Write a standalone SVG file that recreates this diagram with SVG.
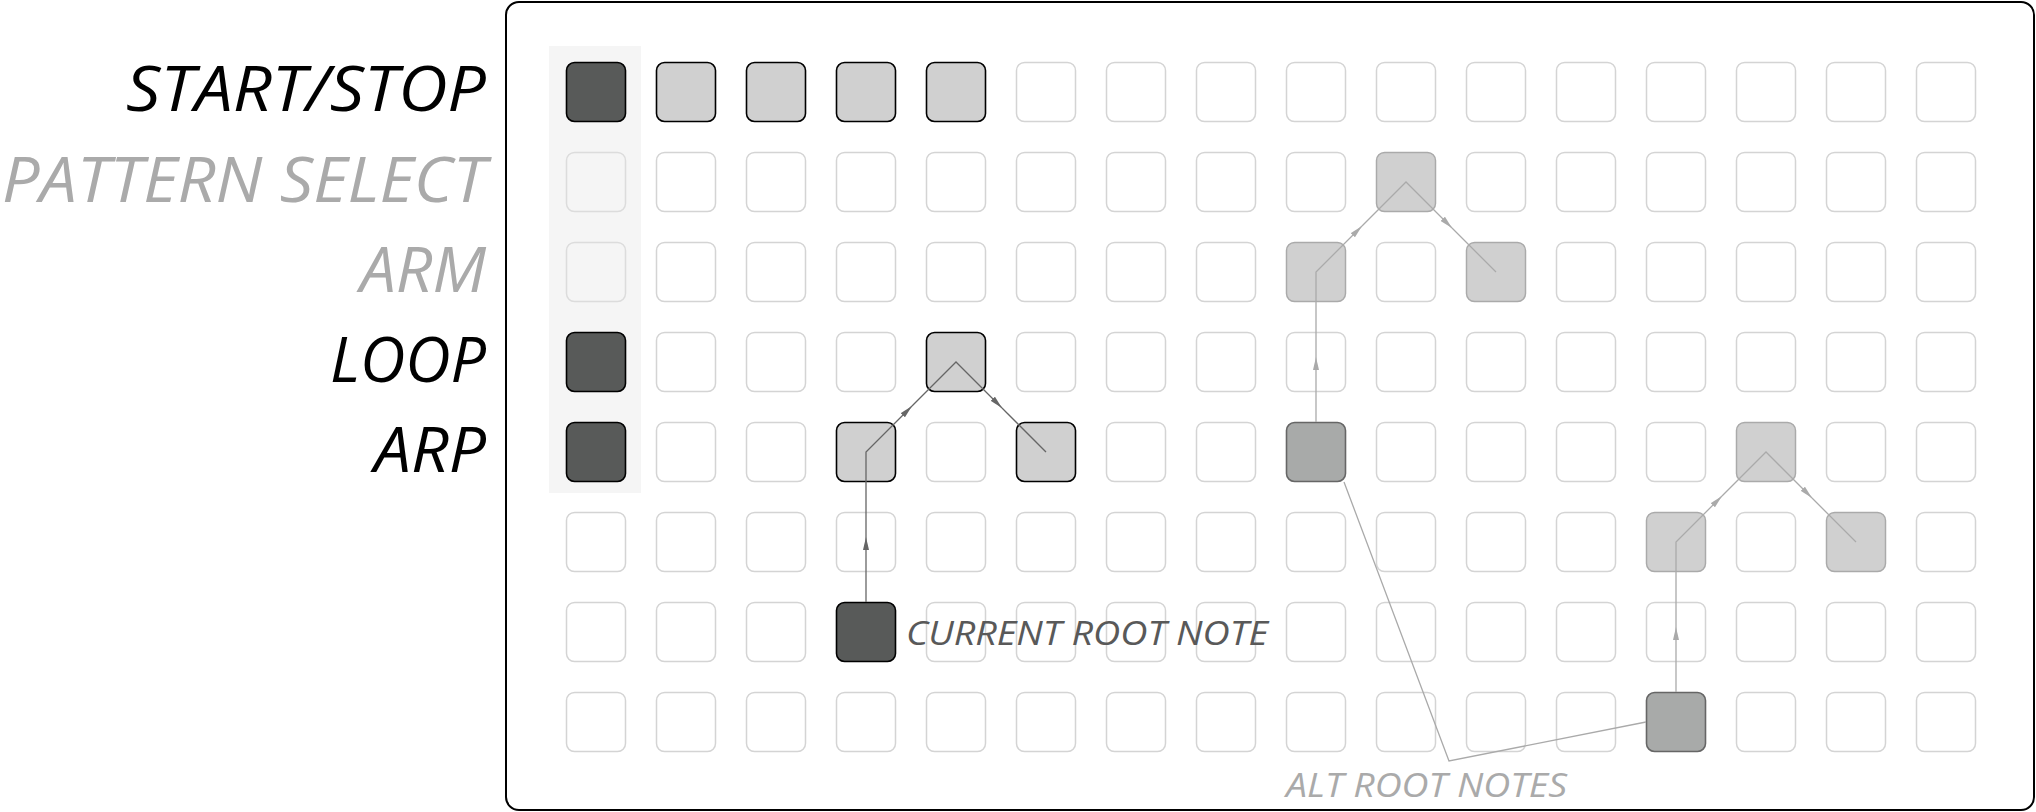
<svg xmlns="http://www.w3.org/2000/svg" width="2036" height="812" viewBox="0 0 2036 812">
<style>
.lbl{font-family:"Open Sans","Liberation Sans",sans-serif;font-style:italic;font-weight:400;font-size:62px;text-anchor:end}
.note{font-family:"Open Sans","Liberation Sans",sans-serif;font-style:italic;font-weight:400;font-size:32px}
.e{fill:#fff;stroke:#d4d4d4;stroke-width:1.5}
.bg{fill:none;stroke:#dcdcdc;stroke-width:1.5}
.d{fill:#585a59;stroke:#000;stroke-width:1.6}
.l{fill:#d0d0d0;stroke:#000;stroke-width:1.6}
.fl{fill:#d0d0d0;stroke:#aaa;stroke-width:1.5}
.fd{fill:#a8aaa9;stroke:#666;stroke-width:1.6}
.cd{fill:none;stroke:#666;stroke-width:1.3}
.cf{fill:none;stroke:#aaa;stroke-width:1.3}
</style>
<defs>
<marker id="ad" markerUnits="userSpaceOnUse" viewBox="0 0 13 6" markerWidth="13" markerHeight="6" refX="13" refY="3" orient="auto"><path d="M0,0 L13,3 L0,6 z" fill="#666"/></marker>
<marker id="af" markerUnits="userSpaceOnUse" viewBox="0 0 13 6" markerWidth="13" markerHeight="6" refX="13" refY="3" orient="auto"><path d="M0,0 L13,3 L0,6 z" fill="#aaa"/></marker>
</defs>
<rect width="2036" height="812" fill="#fff"/>
<rect id="frame" x="506" y="2" width="1528" height="808" rx="13" fill="#fff" stroke="#000" stroke-width="2"/>
<rect id="column-bg" x="549" y="46" width="92" height="447" fill="#f5f5f5"/>
<g id="labels">
<text id="lbl-start" class="lbl" x="486" y="111" fill="#000" textLength="360" lengthAdjust="spacingAndGlyphs">START/STOP</text>
<text id="lbl-pattern" class="lbl" x="486" y="202" fill="#aaa" textLength="484" lengthAdjust="spacingAndGlyphs">PATTERN SELECT</text>
<text id="lbl-arm" class="lbl" x="486" y="292" fill="#aaa" textLength="126" lengthAdjust="spacingAndGlyphs">ARM</text>
<text id="lbl-loop" class="lbl" x="486" y="382" fill="#000" textLength="156" lengthAdjust="spacingAndGlyphs">LOOP</text>
<text id="lbl-arp" class="lbl" x="486" y="472" fill="#000" textLength="112" lengthAdjust="spacingAndGlyphs">ARP</text>
</g>
<g id="grid">
<g id="row0">
<g id="r0c0"><rect class="d" x="566.5" y="62.5" width="59" height="59" rx="8"/></g>
<g id="r0c1"><rect class="l" x="656.5" y="62.5" width="59" height="59" rx="8"/></g>
<g id="r0c2"><rect class="l" x="746.5" y="62.5" width="59" height="59" rx="8"/></g>
<g id="r0c3"><rect class="l" x="836.5" y="62.5" width="59" height="59" rx="8"/></g>
<g id="r0c4"><rect class="l" x="926.5" y="62.5" width="59" height="59" rx="8"/></g>
<g id="r0c5"><rect class="e" x="1016.5" y="62.5" width="59" height="59" rx="8"/></g>
<g id="r0c6"><rect class="e" x="1106.5" y="62.5" width="59" height="59" rx="8"/></g>
<g id="r0c7"><rect class="e" x="1196.5" y="62.5" width="59" height="59" rx="8"/></g>
<g id="r0c8"><rect class="e" x="1286.5" y="62.5" width="59" height="59" rx="8"/></g>
<g id="r0c9"><rect class="e" x="1376.5" y="62.5" width="59" height="59" rx="8"/></g>
<g id="r0c10"><rect class="e" x="1466.5" y="62.5" width="59" height="59" rx="8"/></g>
<g id="r0c11"><rect class="e" x="1556.5" y="62.5" width="59" height="59" rx="8"/></g>
<g id="r0c12"><rect class="e" x="1646.5" y="62.5" width="59" height="59" rx="8"/></g>
<g id="r0c13"><rect class="e" x="1736.5" y="62.5" width="59" height="59" rx="8"/></g>
<g id="r0c14"><rect class="e" x="1826.5" y="62.5" width="59" height="59" rx="8"/></g>
<g id="r0c15"><rect class="e" x="1916.5" y="62.5" width="59" height="59" rx="8"/></g>
</g>
<g id="row1">
<g id="r1c0"><rect class="bg" x="566.5" y="152.5" width="59" height="59" rx="8"/></g>
<g id="r1c1"><rect class="e" x="656.5" y="152.5" width="59" height="59" rx="8"/></g>
<g id="r1c2"><rect class="e" x="746.5" y="152.5" width="59" height="59" rx="8"/></g>
<g id="r1c3"><rect class="e" x="836.5" y="152.5" width="59" height="59" rx="8"/></g>
<g id="r1c4"><rect class="e" x="926.5" y="152.5" width="59" height="59" rx="8"/></g>
<g id="r1c5"><rect class="e" x="1016.5" y="152.5" width="59" height="59" rx="8"/></g>
<g id="r1c6"><rect class="e" x="1106.5" y="152.5" width="59" height="59" rx="8"/></g>
<g id="r1c7"><rect class="e" x="1196.5" y="152.5" width="59" height="59" rx="8"/></g>
<g id="r1c8"><rect class="e" x="1286.5" y="152.5" width="59" height="59" rx="8"/></g>
<g id="r1c9"><rect class="fl" x="1376.5" y="152.5" width="59" height="59" rx="8"/></g>
<g id="r1c10"><rect class="e" x="1466.5" y="152.5" width="59" height="59" rx="8"/></g>
<g id="r1c11"><rect class="e" x="1556.5" y="152.5" width="59" height="59" rx="8"/></g>
<g id="r1c12"><rect class="e" x="1646.5" y="152.5" width="59" height="59" rx="8"/></g>
<g id="r1c13"><rect class="e" x="1736.5" y="152.5" width="59" height="59" rx="8"/></g>
<g id="r1c14"><rect class="e" x="1826.5" y="152.5" width="59" height="59" rx="8"/></g>
<g id="r1c15"><rect class="e" x="1916.5" y="152.5" width="59" height="59" rx="8"/></g>
</g>
<g id="row2">
<g id="r2c0"><rect class="bg" x="566.5" y="242.5" width="59" height="59" rx="8"/></g>
<g id="r2c1"><rect class="e" x="656.5" y="242.5" width="59" height="59" rx="8"/></g>
<g id="r2c2"><rect class="e" x="746.5" y="242.5" width="59" height="59" rx="8"/></g>
<g id="r2c3"><rect class="e" x="836.5" y="242.5" width="59" height="59" rx="8"/></g>
<g id="r2c4"><rect class="e" x="926.5" y="242.5" width="59" height="59" rx="8"/></g>
<g id="r2c5"><rect class="e" x="1016.5" y="242.5" width="59" height="59" rx="8"/></g>
<g id="r2c6"><rect class="e" x="1106.5" y="242.5" width="59" height="59" rx="8"/></g>
<g id="r2c7"><rect class="e" x="1196.5" y="242.5" width="59" height="59" rx="8"/></g>
<g id="r2c8"><rect class="fl" x="1286.5" y="242.5" width="59" height="59" rx="8"/></g>
<g id="r2c9"><rect class="e" x="1376.5" y="242.5" width="59" height="59" rx="8"/></g>
<g id="r2c10"><rect class="fl" x="1466.5" y="242.5" width="59" height="59" rx="8"/></g>
<g id="r2c11"><rect class="e" x="1556.5" y="242.5" width="59" height="59" rx="8"/></g>
<g id="r2c12"><rect class="e" x="1646.5" y="242.5" width="59" height="59" rx="8"/></g>
<g id="r2c13"><rect class="e" x="1736.5" y="242.5" width="59" height="59" rx="8"/></g>
<g id="r2c14"><rect class="e" x="1826.5" y="242.5" width="59" height="59" rx="8"/></g>
<g id="r2c15"><rect class="e" x="1916.5" y="242.5" width="59" height="59" rx="8"/></g>
</g>
<g id="row3">
<g id="r3c0"><rect class="d" x="566.5" y="332.5" width="59" height="59" rx="8"/></g>
<g id="r3c1"><rect class="e" x="656.5" y="332.5" width="59" height="59" rx="8"/></g>
<g id="r3c2"><rect class="e" x="746.5" y="332.5" width="59" height="59" rx="8"/></g>
<g id="r3c3"><rect class="e" x="836.5" y="332.5" width="59" height="59" rx="8"/></g>
<g id="r3c4"><rect class="l" x="926.5" y="332.5" width="59" height="59" rx="8"/></g>
<g id="r3c5"><rect class="e" x="1016.5" y="332.5" width="59" height="59" rx="8"/></g>
<g id="r3c6"><rect class="e" x="1106.5" y="332.5" width="59" height="59" rx="8"/></g>
<g id="r3c7"><rect class="e" x="1196.5" y="332.5" width="59" height="59" rx="8"/></g>
<g id="r3c8"><rect class="e" x="1286.5" y="332.5" width="59" height="59" rx="8"/></g>
<g id="r3c9"><rect class="e" x="1376.5" y="332.5" width="59" height="59" rx="8"/></g>
<g id="r3c10"><rect class="e" x="1466.5" y="332.5" width="59" height="59" rx="8"/></g>
<g id="r3c11"><rect class="e" x="1556.5" y="332.5" width="59" height="59" rx="8"/></g>
<g id="r3c12"><rect class="e" x="1646.5" y="332.5" width="59" height="59" rx="8"/></g>
<g id="r3c13"><rect class="e" x="1736.5" y="332.5" width="59" height="59" rx="8"/></g>
<g id="r3c14"><rect class="e" x="1826.5" y="332.5" width="59" height="59" rx="8"/></g>
<g id="r3c15"><rect class="e" x="1916.5" y="332.5" width="59" height="59" rx="8"/></g>
</g>
<g id="row4">
<g id="r4c0"><rect class="d" x="566.5" y="422.5" width="59" height="59" rx="8"/></g>
<g id="r4c1"><rect class="e" x="656.5" y="422.5" width="59" height="59" rx="8"/></g>
<g id="r4c2"><rect class="e" x="746.5" y="422.5" width="59" height="59" rx="8"/></g>
<g id="r4c3"><rect class="l" x="836.5" y="422.5" width="59" height="59" rx="8"/></g>
<g id="r4c4"><rect class="e" x="926.5" y="422.5" width="59" height="59" rx="8"/></g>
<g id="r4c5"><rect class="l" x="1016.5" y="422.5" width="59" height="59" rx="8"/></g>
<g id="r4c6"><rect class="e" x="1106.5" y="422.5" width="59" height="59" rx="8"/></g>
<g id="r4c7"><rect class="e" x="1196.5" y="422.5" width="59" height="59" rx="8"/></g>
<g id="r4c8"><rect class="fd" x="1286.5" y="422.5" width="59" height="59" rx="8"/></g>
<g id="r4c9"><rect class="e" x="1376.5" y="422.5" width="59" height="59" rx="8"/></g>
<g id="r4c10"><rect class="e" x="1466.5" y="422.5" width="59" height="59" rx="8"/></g>
<g id="r4c11"><rect class="e" x="1556.5" y="422.5" width="59" height="59" rx="8"/></g>
<g id="r4c12"><rect class="e" x="1646.5" y="422.5" width="59" height="59" rx="8"/></g>
<g id="r4c13"><rect class="fl" x="1736.5" y="422.5" width="59" height="59" rx="8"/></g>
<g id="r4c14"><rect class="e" x="1826.5" y="422.5" width="59" height="59" rx="8"/></g>
<g id="r4c15"><rect class="e" x="1916.5" y="422.5" width="59" height="59" rx="8"/></g>
</g>
<g id="row5">
<g id="r5c0"><rect class="e" x="566.5" y="512.5" width="59" height="59" rx="8"/></g>
<g id="r5c1"><rect class="e" x="656.5" y="512.5" width="59" height="59" rx="8"/></g>
<g id="r5c2"><rect class="e" x="746.5" y="512.5" width="59" height="59" rx="8"/></g>
<g id="r5c3"><rect class="e" x="836.5" y="512.5" width="59" height="59" rx="8"/></g>
<g id="r5c4"><rect class="e" x="926.5" y="512.5" width="59" height="59" rx="8"/></g>
<g id="r5c5"><rect class="e" x="1016.5" y="512.5" width="59" height="59" rx="8"/></g>
<g id="r5c6"><rect class="e" x="1106.5" y="512.5" width="59" height="59" rx="8"/></g>
<g id="r5c7"><rect class="e" x="1196.5" y="512.5" width="59" height="59" rx="8"/></g>
<g id="r5c8"><rect class="e" x="1286.5" y="512.5" width="59" height="59" rx="8"/></g>
<g id="r5c9"><rect class="e" x="1376.5" y="512.5" width="59" height="59" rx="8"/></g>
<g id="r5c10"><rect class="e" x="1466.5" y="512.5" width="59" height="59" rx="8"/></g>
<g id="r5c11"><rect class="e" x="1556.5" y="512.5" width="59" height="59" rx="8"/></g>
<g id="r5c12"><rect class="fl" x="1646.5" y="512.5" width="59" height="59" rx="8"/></g>
<g id="r5c13"><rect class="e" x="1736.5" y="512.5" width="59" height="59" rx="8"/></g>
<g id="r5c14"><rect class="fl" x="1826.5" y="512.5" width="59" height="59" rx="8"/></g>
<g id="r5c15"><rect class="e" x="1916.5" y="512.5" width="59" height="59" rx="8"/></g>
</g>
<g id="row6">
<g id="r6c0"><rect class="e" x="566.5" y="602.5" width="59" height="59" rx="8"/></g>
<g id="r6c1"><rect class="e" x="656.5" y="602.5" width="59" height="59" rx="8"/></g>
<g id="r6c2"><rect class="e" x="746.5" y="602.5" width="59" height="59" rx="8"/></g>
<g id="r6c3"><rect class="d" x="836.5" y="602.5" width="59" height="59" rx="8"/></g>
<g id="r6c4"><rect class="e" x="926.5" y="602.5" width="59" height="59" rx="8"/></g>
<g id="r6c5"><rect class="e" x="1016.5" y="602.5" width="59" height="59" rx="8"/></g>
<g id="r6c6"><rect class="e" x="1106.5" y="602.5" width="59" height="59" rx="8"/></g>
<g id="r6c7"><rect class="e" x="1196.5" y="602.5" width="59" height="59" rx="8"/></g>
<g id="r6c8"><rect class="e" x="1286.5" y="602.5" width="59" height="59" rx="8"/></g>
<g id="r6c9"><rect class="e" x="1376.5" y="602.5" width="59" height="59" rx="8"/></g>
<g id="r6c10"><rect class="e" x="1466.5" y="602.5" width="59" height="59" rx="8"/></g>
<g id="r6c11"><rect class="e" x="1556.5" y="602.5" width="59" height="59" rx="8"/></g>
<g id="r6c12"><rect class="e" x="1646.5" y="602.5" width="59" height="59" rx="8"/></g>
<g id="r6c13"><rect class="e" x="1736.5" y="602.5" width="59" height="59" rx="8"/></g>
<g id="r6c14"><rect class="e" x="1826.5" y="602.5" width="59" height="59" rx="8"/></g>
<g id="r6c15"><rect class="e" x="1916.5" y="602.5" width="59" height="59" rx="8"/></g>
</g>
<g id="row7">
<g id="r7c0"><rect class="e" x="566.5" y="692.5" width="59" height="59" rx="8"/></g>
<g id="r7c1"><rect class="e" x="656.5" y="692.5" width="59" height="59" rx="8"/></g>
<g id="r7c2"><rect class="e" x="746.5" y="692.5" width="59" height="59" rx="8"/></g>
<g id="r7c3"><rect class="e" x="836.5" y="692.5" width="59" height="59" rx="8"/></g>
<g id="r7c4"><rect class="e" x="926.5" y="692.5" width="59" height="59" rx="8"/></g>
<g id="r7c5"><rect class="e" x="1016.5" y="692.5" width="59" height="59" rx="8"/></g>
<g id="r7c6"><rect class="e" x="1106.5" y="692.5" width="59" height="59" rx="8"/></g>
<g id="r7c7"><rect class="e" x="1196.5" y="692.5" width="59" height="59" rx="8"/></g>
<g id="r7c8"><rect class="e" x="1286.5" y="692.5" width="59" height="59" rx="8"/></g>
<g id="r7c9"><rect class="e" x="1376.5" y="692.5" width="59" height="59" rx="8"/></g>
<g id="r7c10"><rect class="e" x="1466.5" y="692.5" width="59" height="59" rx="8"/></g>
<g id="r7c11"><rect class="e" x="1556.5" y="692.5" width="59" height="59" rx="8"/></g>
<g id="r7c12"><rect class="fd" x="1646.5" y="692.5" width="59" height="59" rx="8"/></g>
<g id="r7c13"><rect class="e" x="1736.5" y="692.5" width="59" height="59" rx="8"/></g>
<g id="r7c14"><rect class="e" x="1826.5" y="692.5" width="59" height="59" rx="8"/></g>
<g id="r7c15"><rect class="e" x="1916.5" y="692.5" width="59" height="59" rx="8"/></g>
</g>
</g>
<g id="connectors">
<path class="cd" d="M866,602 V537" marker-end="url(#ad)"/>
<path class="cd" d="M866,537 V452 L912,406" marker-end="url(#ad)"/>
<path class="cd" d="M912,406 L956,362 L1002,408" marker-end="url(#ad)"/>
<path class="cd" d="M1002,408 L1046,452"/>
<path class="cf" d="M1316,422 V357" marker-end="url(#af)"/>
<path class="cf" d="M1316,357 V272 L1362,226" marker-end="url(#af)"/>
<path class="cf" d="M1362,226 L1406,182 L1452,228" marker-end="url(#af)"/>
<path class="cf" d="M1452,228 L1496,272"/>
<path class="cf" d="M1676,692 V627" marker-end="url(#af)"/>
<path class="cf" d="M1676,627 V542 L1722,496" marker-end="url(#af)"/>
<path class="cf" d="M1722,496 L1766,452 L1812,498" marker-end="url(#af)"/>
<path class="cf" d="M1812,498 L1856,542"/>
<path class="cf" d="M1344,482 L1449,761 L1646,722"/>
</g>
<g id="notes">
<text id="note-current" class="note" x="906" y="645" fill="#595959" textLength="362" lengthAdjust="spacingAndGlyphs">CURRENT ROOT NOTE</text>
<text id="note-alt" class="note" x="1286" y="797" fill="#aaa" textLength="281" lengthAdjust="spacingAndGlyphs">ALT ROOT NOTES</text>
</g>
</svg>
